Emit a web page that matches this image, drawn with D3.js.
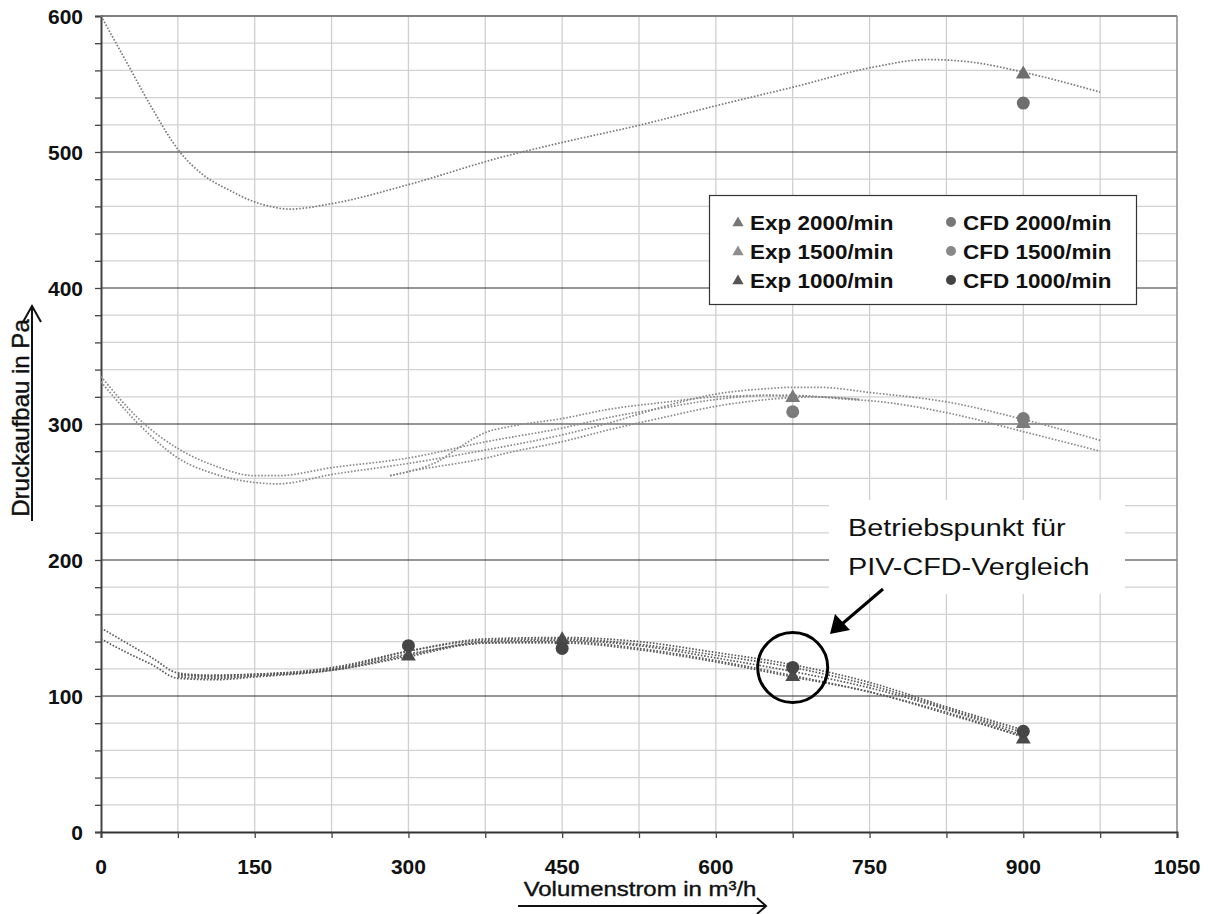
<!DOCTYPE html>
<html>
<head>
<meta charset="UTF-8" />
<title>Druckaufbau</title>
<script src="https://d3js.org/d3.v7.min.js"></script>
<style>
body { margin: 0px; background: #fff; }
svg { display: block; }
text { font-family: "Liberation Sans", Arial, sans-serif; fill: #111; }
</style>
</head>
<body>
<svg id="chart" width="1214" height="914"></svg>
<script>
// axis ticks
const xTickValues = [0, 150, 300, 450, 600, 750, 900, 1050];
const yTickValues = [0, 100, 200, 300, 400, 500, 600];

// trend lines
const topCurve = [[0,600],[25,566],[50,532],[77,500],[100,483],[125,472],[144,465],[165,460],[184,458],[225,462],[300,476],[390,496],[450,507],[527,520],[600,534],[677,548],[751,562],[807,568],[850,566],[904,558],[975,544]];

const midCurve1 = [[0,335],[38,303],[75,282],[112,269],[150,262],[172,262],[226,268],[300,275],[376,287],[450,297],[497,305],[550,312],[600,318],[650,321],[675,321],[731,318],[752,317],[827,308],[902,294],[975,280]];
const midCurve2 = [[0,331],[38,299],[75,275],[112,263],[150,257],[172,256],[226,263],[300,271],[376,281],[450,292],[497,301],[550,313],[600,322],[650,326],[675,327],[700,327],[752,323],[827,316],[902,303],[975,288]];
const midCurve3 = [[282,262],[300,265],[330,273],[350,283],[376,294],[398,298],[450,304],[497,311],[550,316],[600,320],[650,321],[700,320],[740,318]];
const midCurve4 = [[282,262],[300,265],[376,275],[398,279],[450,287],[497,296],[550,305],[600,313],[650,318],[700,320],[740,318]];

const lowCurve1 = [[0,150],[25,139],[50,128],[75,117],[112,115],[150,116],[226,120],[300,133],[376,141],[450,142],[525,138],[600,130],[675,121],[750,108],[825,91],[900,73]];
const lowCurve2 = [[0,142],[25,132],[50,123],[75,113],[112,112],[150,114],[226,119],[300,130],[376,140],[450,141],[525,137],[600,128],[675,118],[750,106],[825,90],[900,71]];
const lowCurve3 = [[75,116],[112,114],[150,115],[226,120],[300,131],[376,139],[450,140],[525,135],[600,126],[675,115],[750,103],[825,88],[900,70]];
const lowCurve4 = [[75,114],[112,113],[150,115],[226,119],[300,129],[376,139],[450,139],[525,134],[600,125],[675,114],[750,103],[825,87],[900,70]];
const lowCurve5 = [[75,115],[150,116],[226,121],[300,133],[376,142],[450,143],[525,140],[600,132],[675,123],[750,110],[825,92],[900,75]];

// measured points
const exp2000 = [[900,558]];
const cfd2000 = [[900,536]];
const exp1500 = [[675,320],[900,301]];
const cfd1500 = [[675,309],[900,304]];
const exp1000 = [[300,130],[450,142],[675,115],[900,69]];
const cfd1000 = [[300,137],[450,135],[675,121],[900,74]];

const legendLabels = ["Exp 2000/min", "Exp 1500/min", "Exp 1000/min", "CFD 2000/min", "CFD 1500/min", "CFD 1000/min"];

let svg = d3.select("#chart");
let x = d3.scaleLinear().domain([0, 1050]).range([101, 1177]);
let y = d3.scaleLinear().domain([0, 600]).range([832, 16]);

// stretched text helper (the original figure is a bit wider than tall)
let label = (g, tx, ty, str, opts) => {
    let t = g.append("text")
        .attr("transform", `translate(${tx},${ty}) scale(${opts.sx || 1},1)`)
        .attr("text-anchor", opts.anchor || "start")
        .style("font-size", opts.size + "px")
        .style("font-weight", opts.bold ? "bold" : "normal")
        .text(str);
    if (opts.dy) t.attr("dy", opts.dy);
    if (opts.heavy) t.attr("stroke", "#111").attr("stroke-width", opts.heavy);
    return t;
};

// grid
let grid = svg.append("g");
grid.selectAll(".vg").data(d3.range(75, 1050, 75)).join("line")
    .attr("x1", d => x(d)).attr("x2", d => x(d))
    .attr("y1", y(600)).attr("y2", y(0))
    .attr("stroke", "#cfcfcf").attr("stroke-width", 1.3);
grid.selectAll(".hg").data(d3.range(20, 600, 20).filter(d => d % 100 !== 0)).join("line")
    .attr("x1", x(0)).attr("x2", x(1050))
    .attr("y1", d => y(d)).attr("y2", d => y(d))
    .attr("stroke", "#d2d2d2").attr("stroke-width", 1.3);
grid.selectAll(".hm").data(yTickValues.filter(d => d > 0 && d < 600)).join("line")
    .attr("x1", x(0)).attr("x2", x(1050))
    .attr("y1", d => y(d)).attr("y2", d => y(d))
    .attr("stroke", "#2e2e2e").attr("stroke-width", 1.2);

// plot border (top, right)
svg.append("line").attr("x1", x(0)).attr("x2", x(1050)).attr("y1", y(600)).attr("y2", y(600))
    .attr("stroke", "#808080").attr("stroke-width", 2);
svg.append("line").attr("x1", x(1050)).attr("x2", x(1050)).attr("y1", y(600)).attr("y2", y(0))
    .attr("stroke", "#8a8a8a").attr("stroke-width", 1.5);

// axes
let yAxis = d3.axisLeft(y).tickValues(d3.range(0, 601, 20)).tickSize(6).tickFormat("");
let yg = svg.append("g").attr("transform", `translate(${x(0)},0)`).call(yAxis);
yg.select(".domain").attr("stroke", "#444").attr("stroke-width", 2);
yg.selectAll(".tick line").attr("stroke", "#444").attr("stroke-width", 1.3);

let xAxis = d3.axisBottom(x).tickValues(d3.range(0, 1051, 75)).tickSize(6).tickFormat("");
let xg = svg.append("g").attr("transform", `translate(0,${y(0)})`).call(xAxis);
xg.select(".domain").attr("stroke", "#333").attr("stroke-width", 2);
xg.selectAll(".tick line").attr("stroke", "#444").attr("stroke-width", 1.3);

// tick labels
let labels = svg.append("g");
for (let v of yTickValues) label(labels, 83, y(v), v, {size: 21, bold: true, anchor: "end", dy: "0.36em", sx: 1.0});
for (let v of xTickValues) label(labels, x(v), 874, v, {size: 21, bold: true, anchor: "middle", sx: 1.0});

// axis titles
svg.append("text")
    .attr("transform", "translate(29,418) rotate(-90)")
    .attr("text-anchor", "middle")
    .attr("stroke", "#111").attr("stroke-width", 0.4)
    .style("font-size", "24px")
    .text("Druckaufbau in Pa");
svg.append("path").attr("d", "M32,521V307M23,322L32,306L41,322")
    .attr("fill", "none").attr("stroke", "#111").attr("stroke-width", 2);

label(svg, 640, 896, "Volumenstrom in m³/h", {size: 21, anchor: "middle", sx: 1.14, heavy: 0.4});
svg.append("path").attr("d", "M518,906H766M757,898L766,906L757,914")
    .attr("fill", "none").attr("stroke", "#111").attr("stroke-width", 2);

// trend lines
let line = d3.line().x(d => x(d[0])).y(d => y(d[1])).curve(d3.curveMonotoneX);
let curves = [
    {data: topCurve, color: "#7a7a7a"},
    {data: midCurve1, color: "#8a8a8a"},
    {data: midCurve2, color: "#8a8a8a"},
    {data: midCurve3, color: "#8a8a8a"},
    {data: midCurve4, color: "#8a8a8a"},
    {data: lowCurve1, color: "#5a5a5a"},
    {data: lowCurve2, color: "#5a5a5a"},
    {data: lowCurve3, color: "#5a5a5a"},
    {data: lowCurve4, color: "#5a5a5a"},
    {data: lowCurve5, color: "#5a5a5a"}
];
svg.append("g").selectAll("path").data(curves).join("path")
    .attr("d", d => line(d.data))
    .attr("fill", "none")
    .attr("stroke", d => d.color)
    .attr("stroke-width", 1.7)
    .attr("stroke-dasharray", "1.6,1.7");

// markers
let tri = d3.symbol().type(d3.symbolTriangle);
let series = [
    {data: cfd1500, kind: "circle", color: "#7b7b7b"},
    {data: exp1500, kind: "tri", color: "#7b7b7b"},
    {data: exp2000, kind: "tri", color: "#6e6e6e"},
    {data: cfd2000, kind: "circle", color: "#6e6e6e"},
    {data: exp1000, kind: "tri", color: "#4a4a4a"},
    {data: cfd1000, kind: "circle", color: "#454545"}
];
let marks = svg.append("g");
for (let s of series) {
    if (s.kind === "circle") {
        marks.selectAll(null).data(s.data).join("circle")
            .attr("cx", d => x(d[0])).attr("cy", d => y(d[1])).attr("r", 6.5)
            .attr("fill", s.color);
    } else {
        marks.selectAll(null).data(s.data).join("path")
            .attr("d", tri.size(95))
            .attr("transform", d => `translate(${x(d[0])},${y(d[1]) + 1})`)
            .attr("fill", s.color);
    }
}

// legend
let lg = svg.append("g");
lg.append("rect").attr("x", 709.5).attr("y", 195.5).attr("width", 427).attr("height", 109)
    .attr("fill", "#fff").attr("stroke", "#333").attr("stroke-width", 1.2);
let legendColors = ["#777", "#8e8e8e", "#555", "#777", "#888", "#444"];
legendLabels.forEach((t, i) => {
    let col = Math.floor(i / 3), row = i % 3;
    let cy = 222 + row * 29;
    let mx = col === 0 ? 738 : 951;
    if (col === 0) {
        lg.append("path").attr("d", d3.symbol().type(d3.symbolTriangle).size(55)())
            .attr("transform", `translate(${mx},${cy + 1})`).attr("fill", legendColors[i]);
    } else {
        lg.append("circle").attr("cx", mx).attr("cy", cy).attr("r", 5).attr("fill", legendColors[i]);
    }
    label(lg, mx + 12, cy, t, {size: 21, bold: true, dy: "0.36em", sx: 1.07});
});

// annotation
let an = svg.append("g");
an.append("rect").attr("x", 829).attr("y", 500).attr("width", 296).attr("height", 94).attr("fill", "#fff");
label(an, 848, 536, "Betriebspunkt für", {size: 24, sx: 1.2});
label(an, 848, 575, "PIV-CFD-Vergleich", {size: 24, sx: 1.2});
an.append("circle").attr("cx", x(675)).attr("cy", y(121)).attr("r", 35)
    .attr("fill", "none").attr("stroke", "#000").attr("stroke-width", 3);
an.append("line").attr("x1", 883).attr("y1", 589).attr("x2", 842).attr("y2", 624)
    .attr("stroke", "#000").attr("stroke-width", 3);
an.append("path").attr("d", "M830,634L835,614L850,630Z").attr("fill", "#000");
</script>
</body>
</html>
